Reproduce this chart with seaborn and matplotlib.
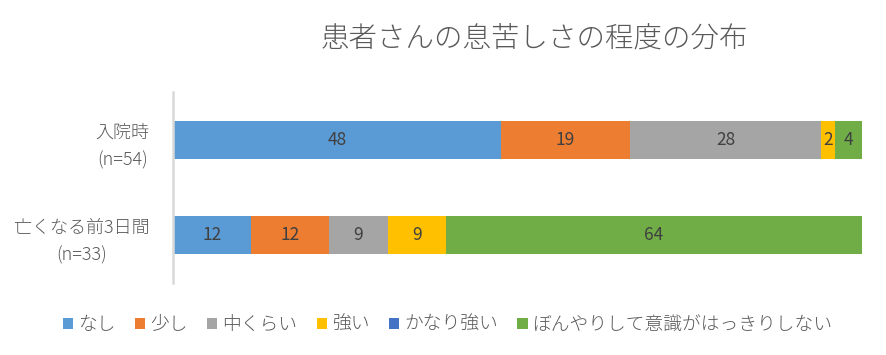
import numpy as np
import pandas as pd
import matplotlib
matplotlib.use("Agg")
import matplotlib.pyplot as plt
from matplotlib.patches import Patch
import seaborn as sns

# data (percent per row, as labelled on the chart)
groups = ['入院時\n(n=54)', '亡くなる前3日間\n(n=33)']
levels = ['なし', '少し', '中くらい', '強い', 'かなり強い', 'ぼんやりして意識がはっきりしない']
nashi = [48, 12]
sukoshi = [19, 12]
chukurai = [28, 9]
tsuyoi = [2, 9]
kanari = [0, 0]
bonyari = [4, 64]
colors = ['#5B9BD5', '#ED7D31', '#A5A5A5', '#FFC000', '#4472C4', '#70AD47']

sns.set_theme(style='white')
plt.rcParams['font.family'] = ['Noto Sans CJK JP', 'DejaVu Sans']
plt.rcParams['font.weight'] = 'light'

df = pd.DataFrame([nashi, sukoshi, chukurai, tsuyoi, kanari, bonyari],
                  index=levels, columns=groups).T
share = df.div(df.sum(axis=1), axis=0) * 100
cum = share.cumsum(axis=1)

fig = plt.figure(figsize=(8.86, 3.55), dpi=100)
ax = fig.add_axes([0.1953, 0.2028, 0.7777, 0.538])

# stacked bars: draw cumulative totals from the right end back to the left
for lvl, col in reversed(list(zip(levels, colors))):
    sns.barplot(x=cum[lvl].values, y=groups, color=col, width=0.4,
                orient='y', ax=ax, linewidth=0, saturation=1)

for i, g in enumerate(groups):
    for lvl in levels:
        v = df.loc[g, lvl]
        if v == 0:
            continue
        xc = cum.loc[g, lvl] - share.loc[g, lvl] / 2
        ax.text(xc, i, str(v), ha='center', va='center', fontsize=12.5,
                color='#404040', fontweight='normal')

ax.set_xlim(0, 100)
ax.set_ylim(1.5, -0.5)
ax.set_xticks([])
ax.set_xlabel('')
ax.set_ylabel('')
for s in ['top', 'right', 'bottom']:
    ax.spines[s].set_visible(False)
ax.spines['left'].set_color('#D9D9D9')
ax.spines['left'].set_linewidth(1.8)
ax.tick_params(axis='y', length=0, pad=17)
for t in ax.get_yticklabels():
    t.set_fontsize(13)
    t.set_color('#595959')
    t.set_multialignment('center')
    t.set_linespacing(1.65)

fig.text(0.603, 0.893, '患者さんの息苦しさの程度の分布', ha='center', va='center',
         fontsize=20.5, color='#595959')

handles = [Patch(facecolor=c, edgecolor='none') for c in colors]
fig.legend(handles, levels, loc='center', bbox_to_anchor=(0.505, 0.085), ncol=6,
           frameon=False, fontsize=13.5, handlelength=0.55, handleheight=0.55,
           handletextpad=0.25, columnspacing=1.05, labelcolor='#595959')

fig.savefig('out.png', dpi=100)
